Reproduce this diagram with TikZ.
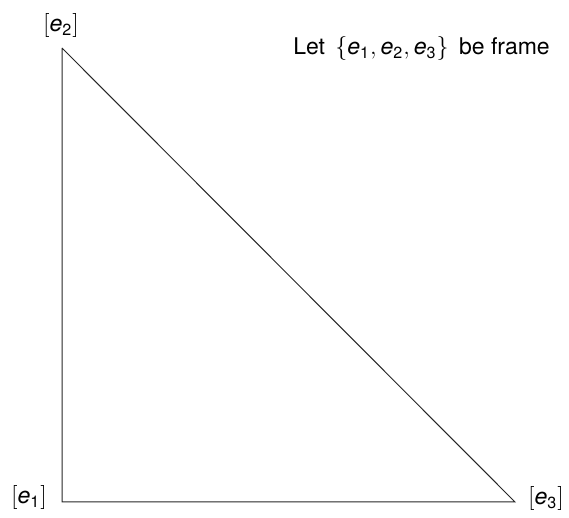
\documentclass[tikz,border=0pt]{standalone}
\usepackage{fontspec}
\setmainfont{TeX Gyre Heros}
\usepackage{tikz}
\usetikzlibrary{positioning}

\newcommand{\ev}[1]{\mathit{e}_{\mathrm{#1}}}
\tikzset{
  vlabel/.style={inner sep=0pt, font=\fontsize{11.5}{13.8}\selectfont},
  side/.style={line width=0.5pt, black!85}
}

\begin{document}
\begin{tikzpicture}[x=0.5pt, y=-0.5pt, font=\fontsize{11.5}{13.8}\selectfont]
\useasboundingbox (0,0) rectangle (569,518);
\coordinate (v1) at (62,502);
\coordinate (v2) at (62,48);
\coordinate (v3) at (515,502);
\draw[side] (v2) -- (v1) -- (v3) -- (v2);
\node[vlabel] (l1) at (29,497.5) {$[\ev{1}]$};
\node[vlabel] (l2) at (61,26) {$[\ev{2}]$};
\node[vlabel] (l3) at (546,499) {$[\ev{3}]$};
\node[inner sep=0pt, anchor=base] (frame) at (421.5,55) {Let $\,\bigl\{\ev{1}, \ev{2}, \ev{3}\bigr\}\,$ be frame};
\end{tikzpicture}
\end{document}
